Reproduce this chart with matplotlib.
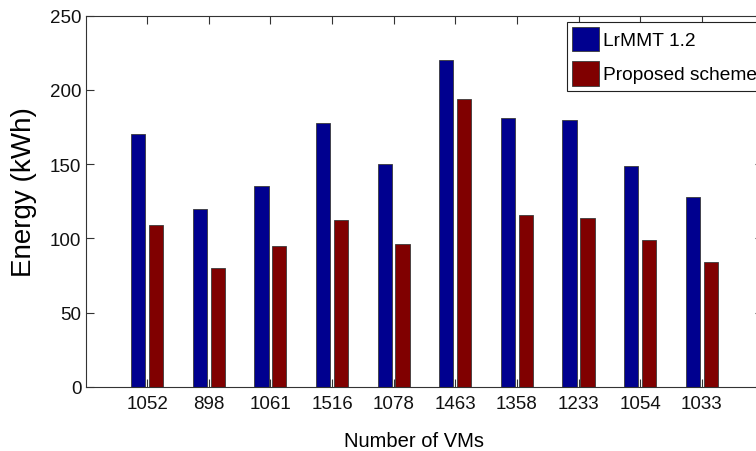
import matplotlib
matplotlib.use("Agg")
import matplotlib.pyplot as plt
import numpy as np

# values
vm_counts = ["1052", "898", "1061", "1516", "1078", "1463", "1358", "1233", "1054", "1033"]
lrmmt = [170, 120, 135, 178, 150, 220, 181, 180, 149, 128]
proposed = [109, 80, 95, 112, 96, 194, 116, 114, 99, 84]

font = ["Liberation Sans", "DejaVu Sans"]

fig = plt.figure(figsize=(7.56, 4.52), dpi=100)
# right edge of the axes sits just past the figure edge, like the cropped original
ax = fig.add_axes([85.5 / 756, 1 - 387.7 / 452, 677.9 / 756, 371 / 452])

x = np.arange(1, len(vm_counts) + 1)
w = 0.232
off = 0.145
ax.bar(x - off, lrmmt, w, color="#00008f", edgecolor="#3a3a3a", linewidth=0.6, label="LrMMT 1.2")
ax.bar(x + off, proposed, w, color="#800000", edgecolor="#3a3a3a", linewidth=0.6, label="Proposed scheme")

ax.set_xlim(0, 11)
ax.set_ylim(0, 250)
ax.set_xticks(x)
ax.set_xticklabels(vm_counts)
ax.set_yticks([0, 50, 100, 150, 200, 250])

for s in ax.spines.values():
    s.set_color("#333333")
    s.set_linewidth(0.8)

ax.tick_params(direction="in", length=6, width=0.8, color="#333333",
               top=True, right=True)
ax.tick_params(axis="x", pad=6)
ax.tick_params(axis="y", pad=3)
for lab in ax.get_xticklabels() + ax.get_yticklabels():
    lab.set_family(font)
    lab.set_fontsize(13.5)
    lab.set_color("#111111")

ax.set_xlabel("Number of VMs", family=font, fontsize=14.5, va="baseline")
ax.xaxis.set_label_coords((414 - 85.5) / 677.9, (387.7 - 447) / 371)
ax.set_ylabel("Energy (kWh)", family=font, fontsize=20, va="center")
ax.yaxis.set_label_coords((24 - 85.5) / 677.9, (387.7 - 192) / 371)

# legend box runs off the right edge, as in the original crop
leg = ax.legend(loc="upper left", bbox_to_anchor=(566.7 / 756, 1 - 22.7 / 452),
                bbox_transform=fig.transFigure, prop={"family": font, "size": 13.8},
                fancybox=False, framealpha=1, edgecolor="#222222",
                handlelength=1.45, handleheight=1.6, handletextpad=0.2,
                borderpad=0.26, labelspacing=0.5, borderaxespad=0)
leg.get_frame().set_linewidth(0.8)

fig.savefig("out.png", dpi=100)
